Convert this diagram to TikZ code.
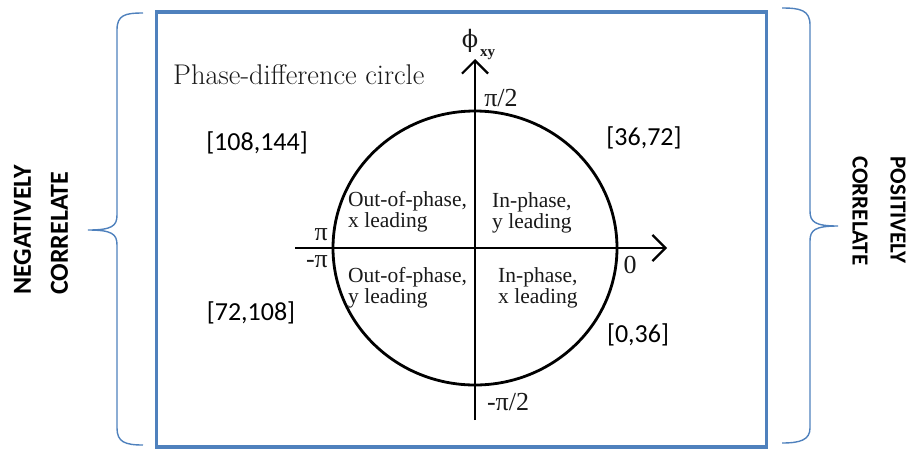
\documentclass[tikz,border=0pt]{standalone}
\usepackage{fontspec}
\newfontfamily\tmsfont{Liberation Serif}
\newfontfamily\calfont{Carlito}
\newfontfamily\dvsfont{DejaVu Serif}
\usetikzlibrary{arrows.meta,shapes.geometric}
\definecolor{boxblue}{RGB}{79,129,189}
\definecolor{ink}{RGB}{25,25,25}
\begin{document}
\begin{tikzpicture}[x=1pt,y=-1pt,
  frame/.style={draw=boxblue, line width=3.5pt, inner sep=0pt},
  brace/.style={draw=boxblue, line width=1.4pt},
  axis/.style={draw=black, line width=2.2pt, -{Straight Barb[length=13pt,width=26pt]}},
  quad/.style={font=\tmsfont\fontsize{21.5}{21}\selectfont, align=left, anchor=west, inner sep=0pt, text=ink},
  rng/.style={font=\calfont\fontsize{26}{30}\selectfont, inner sep=0pt},
  corr/.style={font=\calfont\bfseries\fontsize{26}{37}\selectfont, align=left, inner sep=0pt},
  corrr/.style={font=\calfont\bfseries\fontsize{23}{38}\selectfont, align=left, inner sep=0pt},
  lbl/.style={font=\tmsfont\fontsize{26}{26}\selectfont, inner sep=0pt, text=ink}]
\useasboundingbox (0,0) rectangle (907,448);
% frame
\node[frame, minimum width=610pt, minimum height=435pt, anchor=north west] (frame) at (154.5,10) {};
% braces
\draw[brace] (143,13) .. controls (125,13) and (117,15) .. (117,30) -- (117,215)
  .. controls (117,226) and (112,230) .. (88,230)
  .. controls (112,230) and (117,234) .. (117,245) -- (117,428)
  .. controls (117,442) and (125,445) .. (143,445);
\draw[brace] (782,8) .. controls (800,8) and (810,10) .. (810,25) -- (810,211)
  .. controls (810,222) and (815,226) .. (838,226)
  .. controls (815,226) and (810,230) .. (810,241) -- (810,428)
  .. controls (810,440) and (800,443) .. (782,443);
% side labels
\node[corr, rotate=90] (neg) at (41,230) {NEGATIVELY\\CORRELATE};
\node[corrr, rotate=-90] (pos) at (879,211) {POSITIVELY\\CORRELATE};
% circle and axes
\node[draw, ellipse, minimum width=284pt, minimum height=274pt, inner sep=0pt, line width=2.8pt] (circ) at (475,248) {};
\coordinate (xl) at (295,248);
\coordinate (xr) at (667,248);
\coordinate (yb) at (475,420);
\coordinate (yt) at (475,59);
\draw[axis] (xl) -- (xr);
\draw[axis] (yb) -- (yt);
% axis labels
\node[font=\dvsfont\fontsize{24}{24}\selectfont, inner sep=0pt, text=ink] (phi) at (470,41) {ϕ};
\node[font=\tmsfont\bfseries\fontsize{15}{15}\selectfont, inner sep=0pt, anchor=west, text=ink] (xy) at (480,55) {xy};
\node[lbl] (top) at (501,98) {π/2};
\node[lbl] (bot) at (508,402) {-π/2};
\node[lbl, anchor=east] (pip) at (328,235) {π};
\node[lbl, anchor=east] (pim) at (328,262) {-π};
\node[lbl] (zero) at (630,265) {0};
\node[font=\fontsize{28.5}{28.5}\selectfont, anchor=west, inner sep=0pt, text=ink] (title) at (173,75) {Phase-difference circle};
% quadrant texts
\node[quad] (q2) at (348,212) {Out-of-phase,\\x leading};
\node[quad] (q1) at (492,213) {In-phase,\\y leading};
\node[quad] (q3) at (348,288) {Out-of-phase,\\y leading};
\node[quad] (q4) at (498,288) {In-phase,\\x leading};
% ranges
\node[rng] (r1) at (257,143) {[108,144]};
\node[rng] (r2) at (644,138) {[36,72]};
\node[rng] (r3) at (251,313) {[72,108]};
\node[rng] (r4) at (638,335) {[0,36]};
\end{tikzpicture}
\end{document}
